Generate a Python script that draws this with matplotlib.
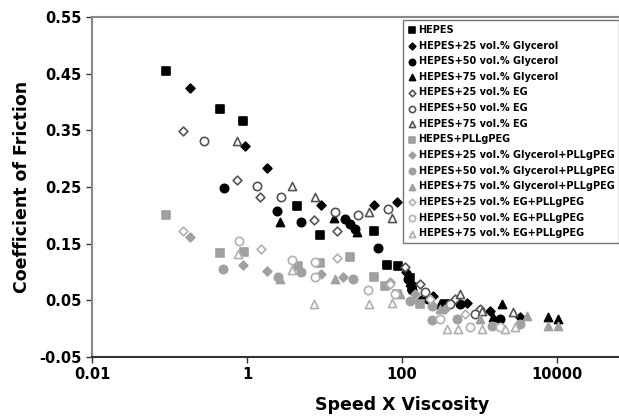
import matplotlib.pyplot as plt
import numpy as np

plt.rcParams['font.family'] = ['DejaVu Sans']
plt.rcParams['font.weight'] = 'bold'

# HEPES
hepes_x = [0.090, 0.449, 0.89, 4.4, 8.7, 43.5, 64, 89, 127, 135, 359]
hepes_y = [0.454, 0.387, 0.366, 0.216, 0.166, 0.172, 0.113, 0.110, 0.090, 0.074, 0.043]
# HEPES+25 vol.% Glycerol
gly25_x = [0.184, 0.94, 1.81, 8.9, 43.5, 86, 113, 176, 250, 690, 1365, 3330]
gly25_y = [0.424, 0.322, 0.283, 0.218, 0.218, 0.223, 0.100, 0.050, 0.057, 0.046, 0.031, 0.020]
# HEPES+50 vol.% Glycerol
gly50_x = [0.505, 2.44, 4.98, 18.4, 21.3, 24.8, 49, 119, 135, 216, 560, 1840]
gly50_y = [0.248, 0.207, 0.189, 0.193, 0.184, 0.175, 0.142, 0.087, 0.069, 0.052, 0.043, 0.017]
# HEPES+75 vol.% Glycerol
gly75_x = [2.67, 13.3, 26.3, 127, 309, 1950, 1490, 7650, 10300]
gly75_y = [0.189, 0.195, 0.170, 0.082, 0.043, 0.043, 0.020, 0.020, 0.017]
# HEPES+25 vol.% EG
eg25_x = [0.149, 0.743, 1.47, 7.3, 14.5, 109, 171, 483, 1015]
eg25_y = [0.348, 0.263, 0.233, 0.191, 0.172, 0.108, 0.078, 0.052, 0.034]
# HEPES+50 vol.% EG
eg50_x = [0.279, 1.35, 2.73, 13.6, 27, 66, 198, 416, 875]
eg50_y = [0.332, 0.251, 0.233, 0.205, 0.200, 0.212, 0.064, 0.043, 0.025]
# HEPES+75 vol.% EG
eg75_x = [0.743, 3.81, 7.5, 37.5, 74, 560, 1076, 2700]
eg75_y = [0.332, 0.251, 0.232, 0.205, 0.196, 0.062, 0.031, 0.029]
# HEPES+PLLgPEG
peg_x = [0.090, 0.449, 0.91, 4.55, 8.7, 21.3, 43.5, 60, 86, 171]
peg_y = [0.200, 0.133, 0.135, 0.110, 0.115, 0.127, 0.092, 0.075, 0.061, 0.043]
# HEPES+25 vol.% Glycerol+PLLgPEG
pgly25_x = [0.184, 0.89, 1.81, 8.9, 17.3, 70, 147, 359]
pgly25_y = [0.161, 0.112, 0.101, 0.096, 0.092, 0.082, 0.061, 0.034]
# HEPES+50 vol.% Glycerol+PLLgPEG
pgly50_x = [0.49, 2.52, 4.98, 23.3, 127, 244, 244, 513, 1450, 3330]
pgly50_y = [0.106, 0.091, 0.100, 0.087, 0.048, 0.040, 0.015, 0.017, 0.004, 0.008]
# HEPES+75 vol.% Glycerol+PLLgPEG
pgly75_x = [2.67, 13.6, 94, 309, 1015, 4100, 7650, 10300]
pgly75_y = [0.087, 0.087, 0.061, 0.034, 0.017, 0.022, 0.004, 0.004]
# HEPES+25 vol.% EG+PLLgPEG
peg25_x = [0.149, 1.51, 14.5, 70, 230, 650]
peg25_y = [0.172, 0.140, 0.124, 0.078, 0.052, 0.025]
# HEPES+50 vol.% EG+PLLgPEG
peg50_x = [0.79, 3.81, 7.5, 7.5, 36.4, 81, 309, 753, 1840]
peg50_y = [0.154, 0.122, 0.117, 0.091, 0.069, 0.061, 0.017, 0.003, 0.003]
# HEPES+75 vol.% EG+PLLgPEG
peg75_x = [0.77, 3.81, 7.3, 37.5, 74, 381, 528, 1076, 2133, 2870]
peg75_y = [0.131, 0.103, 0.043, 0.043, 0.046, -0.001, -0.001, -0.001, -0.001, 0.003]

labels = ["HEPES", "HEPES+25 vol.% Glycerol", "HEPES+50 vol.% Glycerol",
          "HEPES+75 vol.% Glycerol", "HEPES+25 vol.% EG", "HEPES+50 vol.% EG",
          "HEPES+75 vol.% EG", "HEPES+PLLgPEG", "HEPES+25 vol.% Glycerol+PLLgPEG",
          "HEPES+50 vol.% Glycerol+PLLgPEG", "HEPES+75 vol.% Glycerol+PLLgPEG",
          "HEPES+25 vol.% EG+PLLgPEG", "HEPES+50 vol.% EG+PLLgPEG",
          "HEPES+75 vol.% EG+PLLgPEG"]

series = [
    (hepes_x, hepes_y, "s", "black", "black", 36),
    (gly25_x, gly25_y, "D", "black", "black", 20),
    (gly50_x, gly50_y, "o", "black", "black", 36),
    (gly75_x, gly75_y, "^", "black", "black", 34),
    (eg25_x, eg25_y, "D", "white", "#555555", 20),
    (eg50_x, eg50_y, "o", "white", "#555555", 36),
    (eg75_x, eg75_y, "^", "white", "#555555", 34),
    (peg_x, peg_y, "s", "#a0a0a0", "#a0a0a0", 36),
    (pgly25_x, pgly25_y, "D", "#a0a0a0", "#a0a0a0", 20),
    (pgly50_x, pgly50_y, "o", "#a0a0a0", "#a0a0a0", 36),
    (pgly75_x, pgly75_y, "^", "#a0a0a0", "#a0a0a0", 34),
    (peg25_x, peg25_y, "D", "white", "#b0b0b0", 20),
    (peg50_x, peg50_y, "o", "white", "#b0b0b0", 36),
    (peg75_x, peg75_y, "^", "white", "#b0b0b0", 34),
]

fig = plt.figure(figsize=(6.19, 4.19), dpi=100)
ax = fig.add_axes([92 / 619, 62 / 419, 620 / 619, 340 / 419])

for (xs, ys, m, fc, ec, s), lab in zip(series, labels):
    ax.scatter(xs, ys, marker=m, s=s, facecolors=fc, edgecolors=ec,
               linewidths=1.2, label=lab, zorder=3)

ax.set_xscale("log")
ax.set_xlim(0.01, 1e6)
ax.set_ylim(-0.05, 0.55)
ax.set_xticks([0.01, 1, 100, 10000])
ax.set_xticklabels(["0.01", "1", "100", "10000"])
ax.xaxis.set_minor_locator(plt.NullLocator())
ax.set_yticks(np.arange(-0.05, 0.56, 0.1))
ax.set_yticklabels(["%.2f" % v for v in np.arange(-0.05, 0.56, 0.1)])
ax.tick_params(labelsize=10.5, length=4, width=1, colors="#333333", labelcolor="black")

for side in ["top", "left"]:
    ax.spines[side].set_color("#888888")
    ax.spines[side].set_linewidth(1.5)
ax.spines["bottom"].set_color("#333333")
ax.spines["bottom"].set_linewidth(1.5)
ax.spines["right"].set_visible(False)

ax.set_xlabel("Speed X Viscosity", fontsize=12.5, fontweight="bold", labelpad=10)
ax.set_ylabel("Coefficient of Friction", fontsize=12.5, fontweight="bold", labelpad=6)

leg = ax.legend(loc="upper left", bbox_to_anchor=(403 / 619, 1 - 20 / 419),
                bbox_transform=fig.transFigure, frameon=True,
                fancybox=False, borderpad=0.5, labelspacing=0.58,
                handlelength=0.8, handletextpad=0.3, borderaxespad=0,
                markerscale=0.75, prop={"weight": "bold", "size": 7})
leg.get_frame().set_edgecolor("#555555")
leg.get_frame().set_linewidth(1.0)

plt.savefig("out.png", dpi=100)
